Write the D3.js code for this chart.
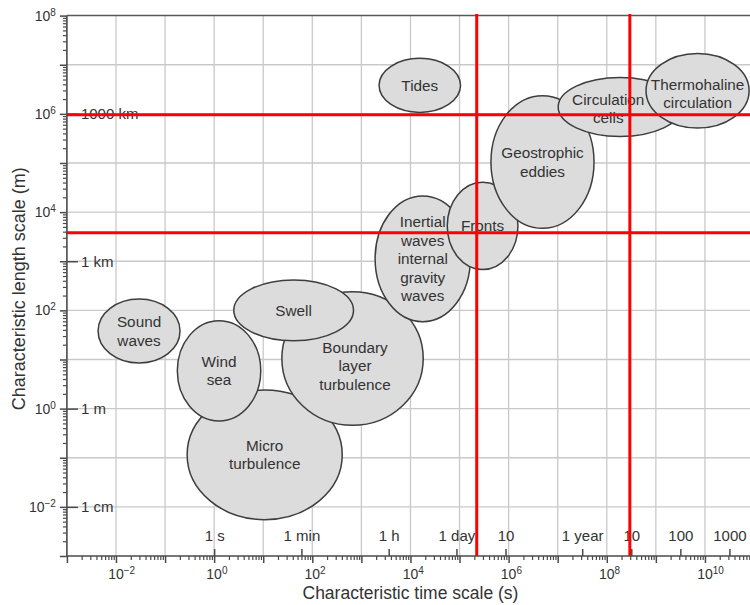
<!DOCTYPE html>
<html>
<head>
<meta charset="utf-8">
<script src="https://cdn.jsdelivr.net/npm/d3@7"></script>
<style>
  html, body { margin: 0; padding: 0; background: #fff; }
  svg { display: block; font-family: "Liberation Sans", Arial, sans-serif; }
</style>
</head>
<body>
<svg id="chart" width="750" height="605"></svg>
<script>
// Ocean process regimes: time scale (s) vs length scale (m), both log10.
const regimeLabels = [
  ["Micro", "turbulence"],
  ["Boundary", "layer", "turbulence"],
  ["Swell"],
  ["Wind", "sea"],
  ["Sound", "waves"],
  ["Inertial", "waves", "internal", "gravity", "waves"],
  ["Fronts"],
  ["Geostrophic", "eddies"],
  ["Circulation", "cells"],
  ["Thermohaline", "circulation"],
  ["Tides"]
];
// centre of each regime (log10 seconds, log10 metres)
const regimeLogTime   = [1.03, 2.82, 1.62, 0.10, -1.53, 4.25, 5.47, 6.69, 8.27, 9.85, 4.19];
const regimeLogLength = [-0.94, 1.02, 2.00, 0.77, 1.58, 3.05, 3.72, 5.02, 6.14, 6.47, 6.58];
// half-extent of each regime, in decades
const regimeSpanTime   = [1.58, 1.44, 1.22, 0.85, 0.835, 0.97, 0.72, 1.05, 1.26, 1.05, 0.83];
const regimeSpanLength = [1.32, 1.36, 0.62, 1.02, 0.65, 1.28, 0.89, 1.35, 0.60, 0.76, 0.55];
// label shift from the regime centre, in decades
const labelShiftTime   = [0, 0.05, 0, 0, 0, 0, 0, 0, -0.24, 0, 0];
const labelShiftLength = [0, -0.15, 0, 0, 0, 0, 0, 0, -0.03, -0.05, 0];

// axis decades and everyday unit marks
const timeDecades   = [-2, 0, 2, 4, 6, 8, 10];
const lengthDecades = [-2, 0, 2, 4, 6, 8];
const timeUnitLabels  = ["1 s", "1 min", "1 h", "1 day", "10", "1 year", "10", "100", "1000"];
const timeUnitSeconds = [1, 60, 3600, 86400, 864000, 31557600, 315576000, 3155760000, 31557600000];
const lengthUnitLabels = ["1000 km", "1 km", "1 m", "1 cm"];
const lengthUnitMeters = [1e6, 1e3, 1, 1e-2];

// threshold lines (seconds / metres)
const thresholdTimes   = [2.24e5, 2.95e8];
const thresholdLengths = [9.6e5, 3.8e3];

const svg = d3.select("#chart");
const W = 750;
const axisColor = "#4a4a4a";
const textColor = "#333";

const x = d3.scaleLog().domain([1e-3, 1e11]).range([66.9, 66.9 + 14 * 49.08]);
const y = d3.scaleLog().domain([1e-3, 1e8]).range([556, 15.6]);
const x0 = x(1e-3), y0 = y(1e-3), yTop = y(1e8);

// grid
const grid = svg.append("g");
grid.selectAll("line.v").data(d3.range(-2, 11)).join("line")
  .attr("x1", d => x(Math.pow(10, d))).attr("x2", d => x(Math.pow(10, d)))
  .attr("y1", yTop).attr("y2", y0)
  .attr("stroke", "#c9c9c9").attr("stroke-width", 1.3);
grid.selectAll("line.h").data(d3.range(-2, 8)).join("line")
  .attr("x1", x0).attr("x2", W)
  .attr("y1", d => y(Math.pow(10, d))).attr("y2", d => y(Math.pow(10, d)))
  .attr("stroke", "#c9c9c9").attr("stroke-width", 1.3);
// top frame line
svg.append("line").attr("x1", x0).attr("x2", W).attr("y1", yTop).attr("y2", yTop)
  .attr("stroke", "#5a5a5a").attr("stroke-width", 1.5);

// regimes
const regimes = regimeLabels.map((lines, i) => ({
  lines,
  t: regimeLogTime[i], l: regimeLogLength[i],
  rt: regimeSpanTime[i], rl: regimeSpanLength[i],
  lt: regimeLogTime[i] + labelShiftTime[i],
  ll: regimeLogLength[i] + labelShiftLength[i]
}));
const p10 = v => Math.pow(10, v);

svg.append("g").selectAll("ellipse").data(regimes).join("ellipse")
  .attr("cx", d => x(p10(d.t)))
  .attr("cy", d => y(p10(d.l)))
  .attr("rx", d => x(p10(d.t + d.rt)) - x(p10(d.t)))
  .attr("ry", d => y(p10(d.l)) - y(p10(d.l + d.rl)))
  .attr("fill", "#dcdcdd")
  .attr("stroke", "#3d3d3d")
  .attr("stroke-width", 1.5);

const lineGap = 18.4;
const labelG = svg.append("g");
regimes.forEach(d => {
  const cx = x(p10(d.lt)), cy = y(p10(d.ll));
  const n = d.lines.length;
  const t = labelG.append("text")
    .attr("text-anchor", "middle")
    .attr("font-size", "15.3px")
    .attr("fill", textColor);
  d.lines.forEach((s, i) => {
    t.append("tspan")
      .attr("x", cx)
      .attr("y", cy + (i - (n - 1) / 2) * lineGap + 5.5)
      .text(s);
  });
});

// x axis: decade ticks with power labels
const xAxisG = svg.append("g").attr("transform", `translate(0,${y0})`);
const xMinor = [];
for (let k = -3; k <= 10; k++) for (let m = 2; m <= 9; m++) xMinor.push(m * Math.pow(10, k));
xAxisG.append("g")
  .call(d3.axisBottom(x).tickValues(xMinor.filter(v => x(v) <= W)).tickSize(4).tickFormat(""))
  .call(g => g.select(".domain").remove())
  .call(g => g.selectAll("line").attr("stroke", axisColor).attr("stroke-width", 1.2));
xAxisG.append("g")
  .call(d3.axisBottom(x).tickValues(d3.range(-3, 11).map(p10)).tickSize(7).tickFormat(""))
  .call(g => g.select(".domain").remove())
  .call(g => g.selectAll("line").attr("stroke", axisColor).attr("stroke-width", 1.5));
xAxisG.selectAll("text.dec").data(timeDecades).join("text")
  .attr("class", "dec")
  .attr("x", d => x(p10(d)) - 7.8)
  .attr("y", 23)
  .attr("font-size", "14px")
  .attr("fill", textColor)
  .call(t => {
    t.append("tspan").text("10");
    t.append("tspan").attr("dy", "-0.5em").attr("font-size", "10px")
      .text(d => String(d).replace("-", "\u2212"));
  });
// everyday time units, marked above the axis
xAxisG.append("g")
  .call(d3.axisTop(x).tickValues(timeUnitSeconds).tickSize(7).tickPadding(8)
    .tickFormat((d, i) => timeUnitLabels[i]))
  .call(g => g.select(".domain").remove())
  .call(g => g.selectAll("line").attr("stroke", axisColor).attr("stroke-width", 1.5))
  .call(g => g.selectAll("text").attr("font-size", "15px").attr("fill", textColor)
    .attr("font-family", "Liberation Sans, Arial, sans-serif"));
xAxisG.append("line").attr("x1", x0).attr("x2", W).attr("y1", 0).attr("y2", 0)
  .attr("stroke", axisColor).attr("stroke-width", 1.6);

// y axis
const yAxisG = svg.append("g").attr("transform", `translate(${x0},0)`);
const yMinor = [];
for (let k = -3; k <= 7; k++) for (let m = 2; m <= 9; m++) yMinor.push(m * Math.pow(10, k));
yAxisG.append("g")
  .call(d3.axisLeft(y).tickValues(yMinor).tickSize(4).tickFormat(""))
  .call(g => g.select(".domain").remove())
  .call(g => g.selectAll("line").attr("stroke", axisColor).attr("stroke-width", 1.2));
yAxisG.append("g")
  .call(d3.axisLeft(y).tickValues(d3.range(-3, 9).map(p10)).tickSize(7).tickFormat(""))
  .call(g => g.select(".domain").remove())
  .call(g => g.selectAll("line").attr("stroke", axisColor).attr("stroke-width", 1.5));
yAxisG.selectAll("text.dec").data(lengthDecades).join("text")
  .attr("class", "dec")
  .attr("x", -11)
  .attr("y", d => y(p10(d)) + 5)
  .attr("text-anchor", "end")
  .attr("font-size", "14px")
  .attr("fill", textColor)
  .call(t => {
    t.append("tspan").text("10");
    t.append("tspan").attr("dy", "-0.5em").attr("font-size", "10px")
      .text(d => String(d).replace("-", "\u2212"));
  });
// everyday length units, marked right of the axis
yAxisG.append("g")
  .call(d3.axisRight(y).tickValues(lengthUnitMeters).tickSize(11).tickPadding(3)
    .tickFormat((d, i) => lengthUnitLabels[i]))
  .call(g => g.select(".domain").remove())
  .call(g => g.selectAll("line").attr("stroke", axisColor).attr("stroke-width", 1.5))
  .call(g => g.selectAll("text").attr("font-size", "15px").attr("fill", textColor)
    .attr("font-family", "Liberation Sans, Arial, sans-serif"));
yAxisG.append("line").attr("x1", 0).attr("x2", 0).attr("y1", yTop).attr("y2", y0)
  .attr("stroke", axisColor).attr("stroke-width", 1.6);

// threshold lines
const red = svg.append("g");
red.selectAll("line.tv").data(thresholdTimes).join("line")
  .attr("x1", d => x(d)).attr("x2", d => x(d))
  .attr("y1", yTop - 1.5).attr("y2", y0)
  .attr("stroke", "#ff0000").attr("stroke-width", 3);
red.selectAll("line.th").data(thresholdLengths).join("line")
  .attr("x1", x0).attr("x2", W)
  .attr("y1", d => y(d)).attr("y2", d => y(d))
  .attr("stroke", "#ff0000").attr("stroke-width", 3);

// axis titles
svg.append("text")
  .attr("x", (x0 + W) / 2 + 2).attr("y", 599)
  .attr("text-anchor", "middle").attr("font-size", "17.5px").attr("fill", textColor)
  .text("Characteristic time scale (s)");
svg.append("text")
  .attr("transform", `translate(25,${(yTop + y0) / 2 + 3}) rotate(-90)`)
  .attr("text-anchor", "middle").attr("font-size", "18px").attr("fill", textColor)
  .text("Characteristic length scale (m)");
</script>
</body>
</html>
